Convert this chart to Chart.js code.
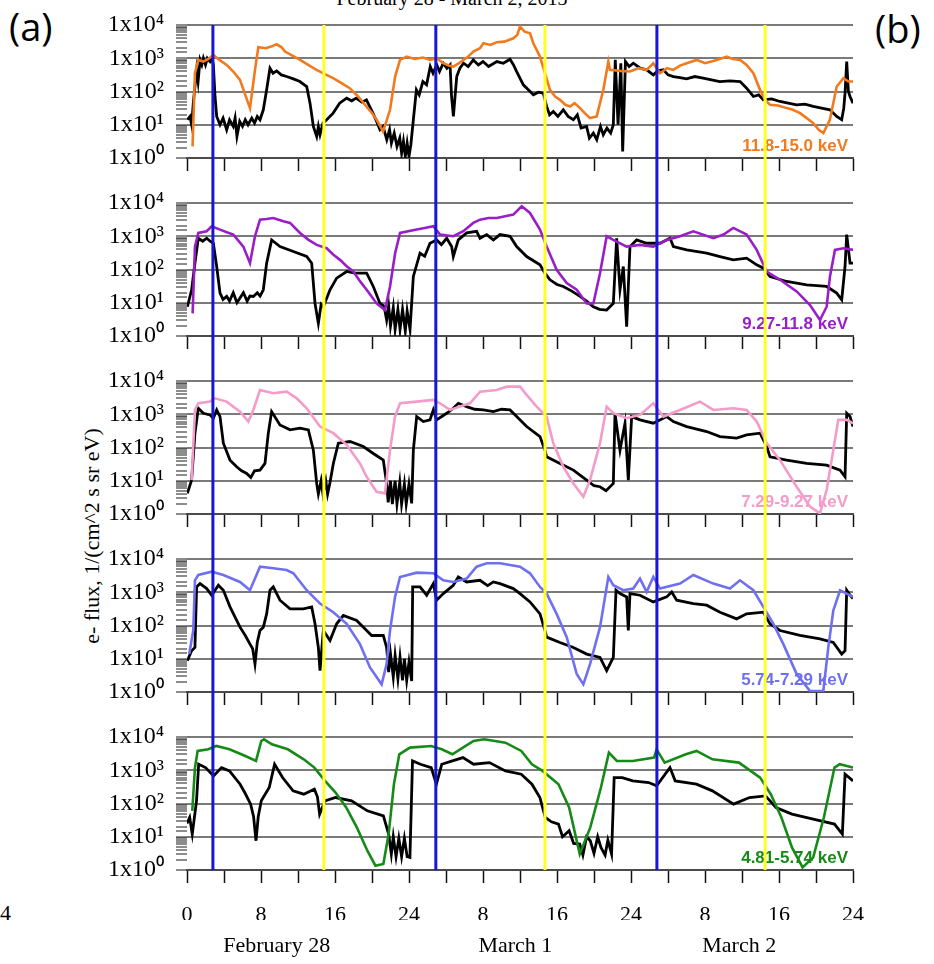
<!DOCTYPE html>
<html>
<head>
<meta charset="utf-8">
<script src="https://cdn.jsdelivr.net/npm/chart.js@4.4.1/dist/chart.umd.min.js"></script>
<style>
  body { margin: 0; background: #fff; }
  #wrap { position: relative; width: 934px; height: 964px; overflow: hidden; background: #fff; }
  canvas { position: absolute; left: 0; }
  .txt { position: absolute; white-space: nowrap; color: #000; }
  #title { top: -12px; left: 302px; width: 300px; text-align: center; font: 20px "Liberation Serif", serif; line-height: 20px; }
  #pa { left: 9px; top: 4px; font: 38px "Open Sans", sans-serif; line-height: 44px; }
  #pb { left: 875px; top: 6px; font: 38px "Open Sans", sans-serif; line-height: 44px; }
  #ytitle { left: -58px; top: 524px; width: 300px; text-align: center; font: 22px "Liberation Serif", serif; line-height: 24px; transform: rotate(-90deg); }
  #cut4 { left: 0px; top: 900px; font: 22px "Liberation Serif", serif; line-height: 26px; }
</style>
</head>
<body>
<div id="wrap">
  <div class="txt" id="title">February 28 - March 2, 2013</div>
  <div class="txt" id="pa">(a)</div>
  <div class="txt" id="pb">(b)</div>
  <div class="txt" id="ytitle">e- flux, 1/(cm^2 s sr eV)</div>
  <div class="txt" id="cut4">4</div>
  <canvas id="p0"></canvas>
  <canvas id="p1"></canvas>
  <canvas id="p2"></canvas>
  <canvas id="p3"></canvas>
  <canvas id="p4"></canvas>
  <canvas id="marks"></canvas>
</div>
<script>
// hours since Feb 28 00:00, log10 of flux
const black1 = [[0.04,1.15],[0.32,1.25],[0.5,1.0],[0.68,1.65],[1.04,2.65],[1.2,2.3],[1.41,2.95],[1.6,2.8],[1.77,3.0],[2.0,2.8],[2.2,3.0],[2.49,2.9],[2.7,3.0],[2.85,2.8],[3.03,1.85],[3.21,1.25],[3.57,1.0],[3.9,1.2],[4.29,0.85],[4.6,1.15],[5.0,0.95],[5.2,1.2],[5.4,0.65],[5.7,1.1],[6.0,0.95],[6.3,1.15],[6.6,1.0],[7.0,1.2],[7.3,1.05],[7.6,1.25],[7.89,1.15],[8.25,1.45],[8.61,2.05],[8.97,2.7],[9.3,2.55],[9.69,2.62],[10.2,2.5],[10.77,2.45],[11.5,2.38],[12.2,2.3],[12.94,2.15],[13.3,1.65],[13.66,0.95],[14.02,0.65],[14.2,0.95],[14.38,0.7],[14.7,1.05],[15.1,1.15],[15.8,1.35],[16.5,1.65],[17.26,1.8],[17.8,1.72],[18.3,1.8],[18.9,1.68],[19.4,1.75],[20.1,1.35],[20.5,1.1],[20.86,0.85],[21.2,0.95],[21.6,0.55],[21.9,0.85],[22.1,0.45],[22.4,0.75],[22.7,0.35],[23.0,0.6],[23.2,0.15],[23.4,0.5],[23.6,0.05],[23.8,0.45],[24.0,0.05],[24.2,0.4],[24.47,1.15],[24.8,2.05],[25.1,1.9],[25.5,2.3],[25.9,2.2],[26.3,2.75],[26.6,2.55],[27.0,2.8],[27.3,2.6],[27.7,2.85],[28.1,2.7],[28.44,2.8],[28.6,1.85],[28.8,1.25],[29.16,2.45],[29.5,2.7],[29.9,2.85],[30.4,2.75],[30.95,2.95],[31.5,2.8],[32.0,2.9],[32.6,2.75],[33.5,2.9],[34.2,2.85],[34.92,2.97],[35.3,2.8],[35.64,2.6],[36.36,2.2],[36.9,2.05],[37.44,1.9],[38.0,1.98],[38.52,1.95],[38.88,1.55],[39.2,1.3],[39.6,1.4],[40.1,1.25],[40.68,1.45],[41.2,1.25],[41.77,1.15],[42.2,1.3],[42.6,0.9],[43.2,0.95],[43.5,0.6],[43.93,0.75],[44.3,0.55],[44.7,0.95],[45.0,0.7],[45.4,0.9],[45.8,0.75],[46.09,1.0],[46.3,2.95],[46.6,1.0],[46.9,2.85],[47.1,0.2],[47.4,2.9],[47.8,2.75],[48.25,2.85],[49.0,2.7],[49.69,2.65],[50.41,2.5],[50.9,2.62],[51.5,2.65],[52.0,2.5],[52.58,2.45],[53.3,2.42],[54.0,2.38],[54.9,2.45],[55.8,2.4],[56.7,2.35],[57.6,2.3],[58.7,2.32],[59.8,2.3],[60.5,2.1],[61.23,1.85],[61.8,1.9],[62.3,1.75],[63.2,1.78],[64.1,1.7],[65.0,1.65],[65.9,1.6],[66.8,1.62],[67.7,1.55],[68.6,1.5],[69.5,1.45],[70.24,1.25],[70.78,1.15],[71.0,1.5],[71.14,1.95],[71.32,2.9],[71.5,2.0],[71.68,1.85],[72.0,1.65]];
const orange1 = [[0.6,0.35],[0.86,2.55],[1.22,2.95],[1.77,2.9],[2.31,2.98],[2.85,3.1],[3.5,2.95],[4.29,2.8],[5.0,2.6],[5.73,2.35],[6.3,1.9],[6.81,1.5],[7.35,2.65],[7.71,3.33],[8.5,3.3],[9.1,3.35],[9.69,3.42],[10.23,3.33],[10.59,3.2],[11.4,3.08],[12.22,2.95],[13.1,2.8],[14.0,2.65],[14.9,2.52],[15.8,2.4],[16.7,2.25],[17.6,2.1],[18.5,1.85],[19.4,1.55],[20.0,1.35],[20.5,1.15],[21.2,0.8],[21.95,1.45],[22.5,2.45],[23.03,2.95],[23.75,3.05],[24.6,2.98],[25.5,3.02],[26.3,2.95],[27.0,3.0],[27.7,2.85],[28.3,2.78],[28.8,2.75],[29.4,2.85],[29.9,2.95],[30.4,3.05],[30.95,3.2],[31.68,3.3],[32.04,3.45],[32.8,3.4],[33.48,3.48],[34.3,3.5],[35.28,3.6],[35.7,3.7],[36.0,3.95],[36.5,3.8],[37.08,3.75],[37.44,3.45],[38.16,3.05],[38.7,2.55],[39.24,2.05],[39.8,1.85],[40.32,1.75],[40.9,1.6],[41.41,1.55],[41.9,1.65],[42.49,1.5],[43.0,1.35],[43.57,1.2],[44.29,1.25],[45.01,2.05],[45.55,2.9],[45.73,2.65],[46.8,2.62],[47.89,2.6],[48.8,2.7],[49.69,2.65],[50.41,2.85],[51.14,2.55],[51.9,2.7],[52.58,2.65],[53.3,2.78],[54.02,2.85],[55.1,2.95],[56.0,2.85],[56.9,2.92],[57.6,2.98],[58.35,3.05],[59.0,2.98],[59.8,2.95],[60.5,2.8],[61.23,2.55],[61.95,2.05],[62.5,1.75],[63.03,1.6],[63.9,1.58],[64.83,1.5],[65.5,1.45],[66.27,1.35],[67.0,1.2],[67.7,1.05],[68.3,0.85],[68.8,0.75],[69.5,1.15],[70.24,2.15],[70.96,2.4],[71.5,2.3],[72.0,2.3]];

const black2 = [[0.04,0.88],[0.5,1.39],[0.86,2.19],[1.22,2.94],[1.7,2.85],[2.13,2.94],[2.5,2.85],[2.85,2.79],[3.21,2.09],[3.57,1.29],[3.9,1.1],[4.29,1.19],[4.6,1.05],[5.0,1.3],[5.4,1.0],[5.73,1.14],[6.1,1.3],[6.5,1.05],[6.8,1.2],[7.17,1.19],[7.6,1.3],[7.9,1.2],[8.25,1.39],[8.61,2.19],[9.15,2.89],[10.05,2.69],[11.5,2.54],[12.94,2.39],[13.48,2.19],[13.84,0.98],[14.2,0.38],[14.5,0.95],[14.74,0.88],[15.46,1.39],[16.18,1.74],[17.26,1.94],[18.0,1.9],[18.7,1.89],[19.42,1.89],[20.14,1.49],[20.86,0.98],[21.3,0.9],[21.58,0.48],[21.8,0.9],[22.0,0.3],[22.3,0.85],[22.5,0.2],[22.8,0.8],[23.03,0.2],[23.3,0.8],[23.6,0.15],[23.8,0.75],[24.11,0.2],[24.47,1.79],[25.19,2.49],[25.7,2.4],[26.27,2.79],[26.99,2.89],[27.5,2.75],[28.07,2.94],[28.61,2.69],[28.79,2.39],[29.33,2.89],[30.23,3.1],[31.31,3.15],[31.68,2.94],[32.4,3.05],[33.12,2.89],[33.84,3.05],[34.92,3.0],[35.64,2.69],[36.72,2.39],[38.16,2.14],[38.7,1.89],[39.24,1.69],[40.0,1.55],[40.68,1.49],[41.6,1.35],[42.49,1.19],[43.2,1.05],[43.93,0.88],[44.6,0.8],[45.37,0.78],[45.8,0.9],[46.09,0.98],[46.45,2.94],[46.81,1.39],[47.17,2.09],[47.53,0.28],[47.89,2.69],[48.61,2.89],[49.69,2.79],[51.14,2.79],[52.22,2.94],[52.58,2.69],[54.02,2.59],[56.18,2.49],[57.62,2.39],[59.06,2.29],[60.5,2.34],[61.59,2.14],[62.31,2.04],[63.03,1.79],[64.83,1.64],[66.99,1.54],[69.15,1.49],[70.24,1.29],[70.78,1.09],[71.14,2.09],[71.32,3.05],[71.68,2.19],[72.0,2.19]];
const purple2 = [[0.61,0.68],[0.86,2.69],[1.22,3.1],[2.13,3.15],[2.67,3.3],[3.57,3.2],[4.3,3.12],[5.01,3.05],[6.09,2.69],[6.81,2.19],[7.35,3.0],[7.89,3.5],[8.6,3.52],[9.33,3.55],[10.41,3.45],[11.14,3.4],[12.22,3.1],[13.1,2.9],[14.02,2.74],[15.1,2.64],[15.8,2.45],[16.54,2.29],[17.26,2.1],[17.98,1.94],[18.7,1.65],[19.42,1.39],[20.5,0.98],[21.4,0.78],[21.95,1.49],[22.5,2.49],[23.03,3.1],[24.83,3.2],[25.7,3.25],[26.63,3.3],[27.35,3.05],[28.79,3.0],[29.87,3.15],[30.95,3.4],[31.68,3.5],[32.6,3.55],[33.48,3.55],[34.4,3.6],[35.28,3.65],[36.18,3.9],[37.08,3.7],[38.16,3.2],[38.88,2.69],[39.96,1.99],[41.05,1.59],[42.13,1.39],[43.21,0.98],[43.93,0.98],[44.65,1.89],[45.37,3.0],[46.09,2.89],[47.53,2.69],[48.97,2.74],[50.41,2.69],[51.86,2.89],[53.3,3.0],[54.74,3.15],[56.9,2.94],[58.0,3.05],[59.06,3.25],[60.5,3.05],[61.59,2.59],[62.67,1.94],[64.11,1.69],[65.91,1.34],[67.35,0.93],[68.43,0.48],[69.15,0.88],[69.51,1.79],[70.05,2.59],[70.96,2.64],[72.0,2.59]];

const black3 = [[0.04,0.62],[0.5,1.02],[0.86,2.43],[1.22,3.18],[1.77,3.03],[2.49,2.98],[2.85,2.88],[3.21,3.13],[3.57,2.93],[3.93,2.13],[4.65,1.62],[5.37,1.42],[5.9,1.3],[6.45,1.22],[6.9,1.1],[7.3,1.3],[7.89,1.32],[8.43,1.52],[8.79,2.43],[9.15,3.08],[10.05,2.68],[11.14,2.53],[12.22,2.58],[13.12,2.53],[13.66,1.92],[14.02,0.92],[14.2,0.6],[14.5,1.0],[14.7,0.6],[15.0,1.0],[15.2,0.6],[15.46,0.95],[15.82,1.52],[16.36,2.13],[17.62,2.18],[19.06,2.03],[20.14,1.82],[21.22,1.62],[21.58,0.92],[21.75,0.35],[22.0,1.0],[22.2,0.3],[22.5,1.0],[22.7,0.3],[23.0,0.95],[23.2,0.3],[23.5,0.9],[23.7,0.3],[24.0,0.9],[24.29,0.32],[24.47,1.92],[24.83,2.93],[25.55,2.78],[26.27,2.83],[26.63,3.13],[26.99,2.83],[28.07,3.03],[28.79,3.18],[29.33,3.33],[30.23,3.23],[31.1,3.15],[32.04,3.13],[33.12,3.08],[34.0,3.15],[34.92,3.13],[35.64,2.93],[36.72,2.63],[38.16,2.33],[38.7,1.92],[38.88,1.72],[40.32,1.52],[41.77,1.32],[43.21,1.02],[44.0,0.85],[44.65,0.82],[45.3,0.7],[46.09,0.92],[46.27,3.03],[46.81,1.92],[47.35,2.73],[47.71,1.02],[48.07,2.93],[48.97,2.83],[50.41,2.73],[51.86,2.93],[52.58,2.78],[54.02,2.63],[56.18,2.48],[57.62,2.33],[59.42,2.28],[60.5,2.38],[61.95,2.43],[62.67,2.03],[63.03,1.72],[64.83,1.62],[66.99,1.52],[69.15,1.47],[70.6,1.32],[71.14,1.12],[71.32,3.03],[71.68,2.93],[72.0,2.63]];
const pink3 = [[0.5,1.02],[0.86,3.13],[1.22,3.33],[2.49,3.38],[3.03,3.48],[4.29,3.38],[5.73,3.08],[6.63,2.78],[7.17,3.13],[7.89,3.73],[9.33,3.63],[10.77,3.68],[11.86,3.48],[12.94,3.18],[14.38,2.63],[15.82,2.43],[17.26,2.08],[18.7,1.52],[19.42,1.12],[20.5,0.67],[21.4,0.62],[21.95,1.92],[22.49,2.93],[23.03,3.33],[24.83,3.38],[26.63,3.43],[27.35,3.33],[28.43,3.13],[29.51,3.23],[30.59,3.33],[31.68,3.68],[33.48,3.73],[34.56,3.83],[36.0,3.83],[36.72,3.58],[37.8,3.23],[38.88,2.93],[39.6,2.13],[40.68,1.42],[41.77,0.92],[42.85,0.52],[43.57,1.02],[44.65,2.13],[45.37,3.23],[46.09,3.03],[47.53,2.88],[48.97,2.98],[50.41,3.33],[51.5,2.93],[53.3,3.13],[55.46,3.38],[56.9,3.13],[59.06,3.18],[60.5,3.13],[61.59,2.78],[62.67,2.13],[64.11,1.62],[65.91,0.82],[67.35,0.22],[68.43,0.02],[69.15,0.72],[69.87,1.92],[70.41,2.83],[71.32,2.83],[72.0,2.73]];

const black4 = [[0.04,0.94],[0.5,1.24],[0.86,1.34],[1.04,3.16],[1.41,3.26],[2.13,3.11],[2.67,2.91],[3.39,3.21],[3.93,3.06],[4.65,2.56],[5.73,1.95],[6.3,1.7],[6.81,1.44],[7.1,1.3],[7.35,0.84],[7.6,1.5],[7.89,1.85],[8.25,1.95],[8.61,2.35],[8.97,3.06],[9.33,3.16],[10.05,2.76],[11.14,2.5],[12.58,2.5],[13.48,2.56],[13.84,2.05],[14.2,1.34],[14.38,0.64],[14.74,1.85],[15.46,1.55],[16.18,2.05],[16.9,2.3],[18.34,2.15],[19.42,1.85],[19.96,1.7],[21.22,1.7],[21.58,1.34],[21.8,0.6],[22.0,1.15],[22.3,0.45],[22.5,1.1],[22.8,0.4],[23.03,1.05],[23.3,0.35],[23.5,1.0],[23.75,0.35],[24.0,0.9],[24.29,0.33],[24.4,3.16],[25.19,3.16],[25.91,2.91],[26.63,3.26],[26.99,2.76],[27.71,2.96],[28.79,3.21],[29.33,3.46],[30.23,3.31],[31.67,3.36],[32.5,3.2],[33.12,3.31],[33.84,3.26],[35.28,3.11],[36.0,2.96],[37.08,2.71],[38.16,2.35],[38.7,1.85],[38.88,1.65],[40.32,1.49],[41.77,1.34],[43.21,1.14],[44.65,1.04],[45.37,0.64],[46.09,1.04],[46.38,3.06],[46.81,2.96],[47.53,2.86],[47.71,1.85],[47.89,2.96],[48.97,2.91],[50.41,2.71],[51.86,2.86],[52.4,3.01],[52.94,2.76],[54.74,2.66],[56.18,2.61],[57.62,2.4],[59.42,2.2],[60.5,2.35],[62.31,2.4],[63.03,2.05],[64.11,1.85],[66.27,1.7],[68.43,1.6],[69.87,1.49],[70.78,1.14],[71.14,1.24],[71.32,3.06],[71.68,2.91],[72.0,2.81]];
const lavender4 = [[0.24,1.14],[0.68,1.85],[0.86,3.36],[1.22,3.52],[2.67,3.62],[3.93,3.52],[5.73,3.31],[6.81,3.06],[7.89,3.77],[9.33,3.72],[10.77,3.67],[11.5,3.57],[12.94,3.06],[14.38,2.66],[15.82,2.4],[17.26,2.05],[18.7,1.44],[19.78,0.74],[21.04,0.23],[21.58,0.84],[21.95,1.85],[22.49,2.86],[23.03,3.46],[24.83,3.59],[26.63,3.57],[27.71,3.36],[28.79,3.31],[30.23,3.41],[31.31,3.77],[32.4,3.87],[33.84,3.87],[36.0,3.77],[37.08,3.57],[38.16,3.16],[38.88,2.96],[39.96,2.35],[41.05,1.65],[42.13,0.54],[42.85,0.23],[43.57,0.84],[44.65,1.95],[45.55,3.46],[46.09,3.21],[47.17,3.06],[48.25,3.11],[48.97,3.41],[49.69,3.01],[50.41,3.46],[51.14,3.11],[53.3,3.26],[54.74,3.52],[56.9,3.26],[58.7,3.11],[59.78,3.36],[61.23,3.06],[62.31,2.56],[63.39,2.05],[64.47,1.44],[65.91,0.54],[67.35,0.03],[68.79,0.03],[69.33,1.34],[69.87,2.45],[70.6,3.06],[71.32,2.96],[72.0,2.86]];

const black5 = [[0.0,1.4],[0.29,1.58],[0.57,1.08],[1.03,2.08],[1.26,3.18],[2.0,3.08],[2.87,2.83],[3.73,3.08],[4.59,2.98],[5.74,2.58],[6.3,2.3],[6.88,1.98],[7.2,1.6],[7.46,0.88],[7.7,1.6],[8.03,2.08],[8.89,2.48],[9.47,3.18],[10.33,2.78],[11.47,2.38],[12.62,2.28],[13.77,2.43],[14.1,2.2],[14.34,1.68],[14.92,2.08],[16.06,2.18],[17.79,2.08],[19.5,1.78],[21.23,1.63],[21.8,1.08],[22.09,0.48],[22.3,1.0],[22.6,0.4],[22.9,0.95],[23.2,0.4],[23.5,0.95],[23.8,0.4],[24.1,0.38],[24.38,3.28],[25.24,3.18],[26.4,3.08],[26.96,2.58],[27.54,3.18],[28.69,3.28],[29.83,3.38],[30.98,3.18],[32.7,3.23],[34.42,2.98],[36.14,2.88],[37.29,2.58],[38.15,2.18],[38.73,1.58],[39.4,1.45],[40.16,1.38],[40.6,1.0],[41.31,1.18],[41.8,0.8],[42.46,0.78],[42.8,0.45],[43.2,1.0],[43.6,0.88],[44.0,0.5],[44.4,1.0],[44.75,0.68],[45.2,0.45],[45.5,0.9],[45.9,0.48],[46.18,2.78],[47.05,2.78],[48.19,2.68],[49.91,2.63],[50.77,2.53],[52.21,3.08],[52.78,2.68],[55.08,2.58],[56.8,2.38],[59.09,1.98],[60.81,2.18],[62.54,2.23],[63.68,1.88],[65.4,1.68],[67.7,1.53],[70.0,1.38],[70.85,1.08],[71.14,2.88],[72.0,2.68]];
const green5 = [[0.57,1.78],[0.86,3.08],[1.15,3.58],[2.3,3.63],[3.16,3.73],[4.59,3.63],[6.31,3.43],[7.46,3.28],[8.03,3.88],[8.32,3.93],[9.18,3.78],[10.9,3.63],[12.62,3.33],[13.77,3.08],[14.92,2.68],[16.06,2.33],[17.21,1.88],[18.36,1.28],[19.5,0.58],[20.37,0.13],[21.23,0.18],[21.8,1.08],[22.37,2.58],[22.95,3.48],[24.1,3.68],[26.4,3.73],[27.54,3.63],[28.69,3.48],[29.83,3.68],[30.98,3.88],[32.13,3.93],[34.42,3.83],[36.14,3.58],[37.29,3.18],[38.44,2.98],[40.16,2.58],[41.31,1.88],[42.46,0.48],[43.6,1.28],[44.75,2.48],[45.61,3.53],[46.47,3.28],[48.19,3.28],[50.49,3.38],[50.77,3.63],[51.64,3.23],[53.93,3.48],[55.08,3.58],[56.8,3.33],[59.67,3.23],[61.96,2.78],[63.11,2.28],[64.26,1.58],[65.4,0.68],[66.55,0.08],[67.7,0.38],[68.85,1.58],[70.0,3.08],[70.57,3.18],[72.0,3.08]];

const channelLabels = ['11.8-15.0 keV', '9.27-11.8 keV', '7.29-9.27 keV', '5.74-7.29 keV', '4.81-5.74 keV'];
const channelColors = ['#f27a1e', '#9a1ec8', '#f39bc9', '#6f6ff2', '#168a16'];
const colorSeries = [orange1, purple2, pink3, lavender4, green5];
const blackSeries = [black1, black2, black3, black4, black5];

const blueLineHours = [2.8, 26.9, 50.8];
const yellowLineHours = [14.8, 38.7, 62.5];

const xTickHours = [0, 4, 8, 12, 16, 20, 24, 28, 32, 36, 40, 44, 48, 52, 56, 60, 64, 68, 72];
const xTickLabels = ['0', '', '8', '', '16', '', '24', '', '8', '', '16', '', '24', '', '8', '', '16', '', '24'];
const dayLabelHours = [9.7, 35.5, 59.7];
const dayLabels = ['February 28', 'March 1', 'March 2'];
const yTickLabels = ['1x10\u2070', '1x10\u00b9', '1x10\u00b2', '1x10\u00b3', '1x10\u2074'];

const W = 934;
const plotLeft = 187, plotRight = 853;
const panelTops = [25, 203, 381, 559, 737];
const plotH = 133;
const padTop = 30;   // room for the y-axis label overhang
const padBot = 30;

const toPoints = arr => arr.map(([h, e]) => ({ x: h, y: Math.pow(10, e) }));
const isDecade = v => { const e = Math.log10(v); return Math.abs(e - Math.round(e)) < 1e-6; };
const serif = 'Liberation Serif, Times New Roman, serif';

const channelLabel = {
  id: 'channelLabel',
  beforeDatasetsDraw(chart, args, opts) {
    const { ctx, chartArea } = chart;
    ctx.save();
    ctx.font = 'bold 17px "Liberation Sans", Arial, sans-serif';
    ctx.fillStyle = opts.color;
    ctx.textAlign = 'right';
    ctx.textBaseline = 'alphabetic';
    ctx.fillText(opts.text, chartArea.right - 5, chartArea.bottom - 7);
    ctx.restore();
  }
};

function makePanel(i) {
  const last = i === 4;
  const canvas = document.getElementById('p' + i);
  const top = panelTops[i] - padTop;
  const h = last ? 964 - top : padTop + plotH + padBot;
  canvas.width = W; canvas.height = h;
  canvas.style.width = W + 'px'; canvas.style.height = h + 'px';
  canvas.style.top = top + 'px';

  const scales = {
    x: {
      type: 'linear', min: 0, max: 72,
      afterBuildTicks: s => { s.ticks = xTickHours.map(v => ({ value: v })); },
      afterFit: s => { s.height = last ? 50 : padBot; },
      grid: { drawOnChartArea: false, drawTicks: true, tickLength: 13, tickColor: '#111', tickWidth: 1.5 },
      border: { display: true, color: '#4a4a4a', width: 2 },
      ticks: {
        display: last, autoSkip: false, maxRotation: 0, padding: 19,
        font: { family: serif, size: 22 }, color: '#000',
        callback: (v, idx) => xTickLabels[idx]
      }
    },
    y: {
      type: 'logarithmic', min: 1, max: 10000,
      afterFit: s => { s.width = plotLeft; },
      grid: {
        color: c => (c.tick && isDecade(c.tick.value)) ? '#7a7a7a' : 'rgba(0,0,0,0)',
        lineWidth: 2, drawTicks: true, tickLength: 11, tickColor: '#1a1a1a', tickWidth: 1
      },
      border: { display: false },
      ticks: {
        autoSkip: false, padding: 12, color: '#000',
        font: { family: serif, size: 24, lineHeight: 1 },
        callback: v => isDecade(v) ? yTickLabels[Math.round(Math.log10(v))] : ''
      }
    }
  };
  if (last) {
    scales.x2 = {
      type: 'linear', position: 'bottom', min: 0, max: 72,
      afterBuildTicks: s => { s.ticks = dayLabelHours.map(v => ({ value: v })); },
      afterFit: s => { s.height = h - padTop - plotH - 50; },
      grid: { display: false, drawTicks: false },
      border: { display: false },
      ticks: {
        autoSkip: false, maxRotation: 0, padding: 13,
        font: { family: serif, size: 22 }, color: '#000',
        callback: (v, idx) => dayLabels[idx]
      }
    };
  }

  return new Chart(canvas, {
    type: 'line',
    data: {
      datasets: [
        { data: toPoints(colorSeries[i]), borderColor: channelColors[i], borderWidth: 2.6, pointRadius: 0, tension: 0 },
        { data: toPoints(blackSeries[i]), borderColor: '#000', borderWidth: 2.8, pointRadius: 0, tension: 0 }
      ]
    },
    options: {
      responsive: false, animation: false, devicePixelRatio: 1,
      layout: { padding: { top: padTop, right: W - plotRight, left: 0, bottom: 0 } },
      plugins: {
        legend: { display: false }, tooltip: { enabled: false },
        channelLabel: { text: channelLabels[i], color: channelColors[i] }
      },
      scales
    },
    plugins: [channelLabel]
  });
}

for (let i = 0; i < 5; i++) makePanel(i);

// vertical event lines running through all five panels
const mk = document.getElementById('marks');
mk.width = W; mk.height = 964;
mk.style.width = W + 'px'; mk.style.height = '964px'; mk.style.top = '0px';
mk.style.pointerEvents = 'none';
const vline = (h, color) => ({ data: [{ x: h, y: 0 }, { x: h, y: 1 }], borderColor: color, borderWidth: 3, pointRadius: 0, borderCapStyle: 'butt' });
new Chart(mk, {
  type: 'line',
  data: {
    datasets: [
      ...blueLineHours.map(h => vline(h, '#1616d8')),
      ...yellowLineHours.map(h => vline(h, '#ffff22'))
    ]
  },
  options: {
    responsive: false, animation: false, devicePixelRatio: 1,
    layout: { padding: { top: panelTops[0], bottom: 964 - (panelTops[4] + plotH), left: plotLeft, right: W - plotRight } },
    plugins: { legend: { display: false }, tooltip: { enabled: false } },
    scales: {
      x: { type: 'linear', min: 0, max: 72, display: false },
      y: { type: 'linear', min: 0, max: 1, display: false }
    }
  }
});
</script>
</body>
</html>
